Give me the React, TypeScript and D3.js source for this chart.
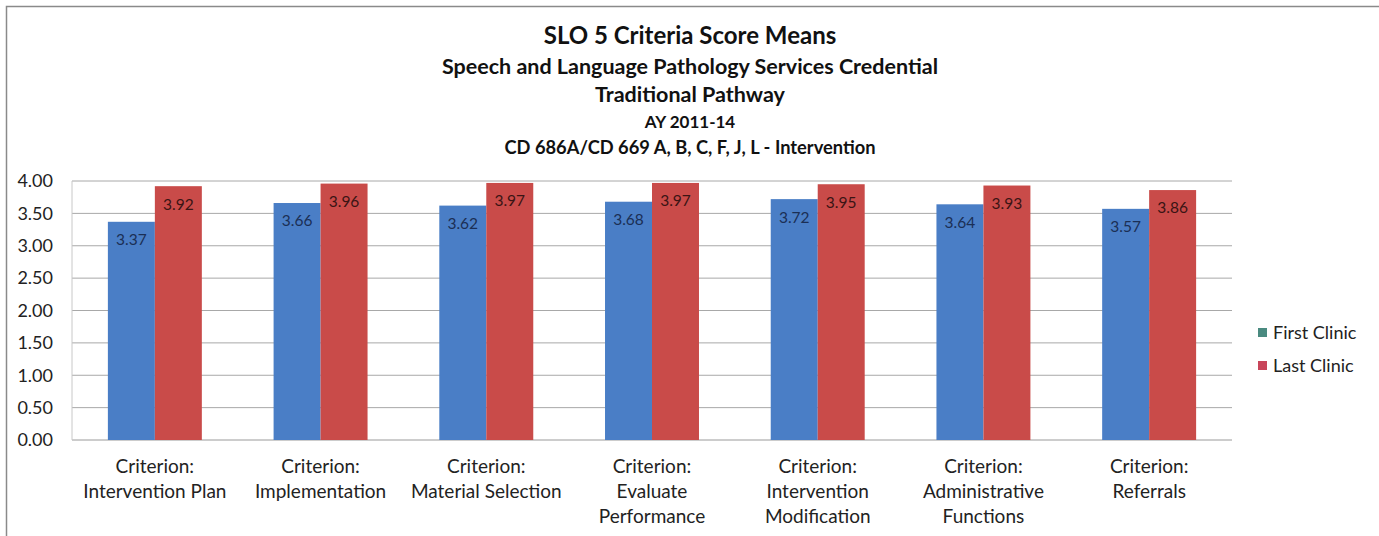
import React from "react";
import * as d3 from "d3";

const categories: string[][] = [
  ["Criterion:", "Intervention Plan"],
  ["Criterion:", "Implementation"],
  ["Criterion:", "Material Selection"],
  ["Criterion:", "Evaluate", "Performance"],
  ["Criterion:", "Intervention", "Modification"],
  ["Criterion:", "Administrative", "Functions"],
  ["Criterion:", "Referrals"],
];
const seriesNames = ["First Clinic", "Last Clinic"];
const firstClinic = [3.37, 3.66, 3.62, 3.68, 3.72, 3.64, 3.57];
const lastClinic = [3.92, 3.96, 3.97, 3.97, 3.95, 3.93, 3.86];
const yTicks = [0, 0.5, 1, 1.5, 2, 2.5, 3, 3.5, 4];
const titleLines = [
  "SLO 5 Criteria Score Means",
  "Speech and Language Pathology Services Credential",
  "Traditional  Pathway",
  "AY 2011-14",
  "CD 686A/CD 669 A, B, C, F, J, L - Intervention",
];

const W = 1379;
const H = 536;
const FONT = "Lato, 'Open Sans', sans-serif";
const BAR_COLORS = ["#4a7ec6", "#c94b49"];
const LEGEND_COLORS = ["#4a8a80", "#c8455a"];
const LABEL_COLORS = ["#1b2f55", "#3a1414"];

export default function App() {
  const plot = { left: 72, right: 1232, top: 181, bottom: 440 };
  const keys = categories.map((c) => c.join(" "));
  const x0 = d3
    .scaleBand<string>()
    .domain(keys)
    .range([plot.left, plot.right])
    .paddingInner(0.433)
    .paddingOuter(0.2165);
  const x1 = d3.scaleBand<string>().domain(seriesNames).range([0, x0.bandwidth()]);
  const y = d3.scaleLinear().domain([0, 4]).range([plot.bottom, plot.top]);
  const series = [firstClinic, lastClinic];

  return (
    <svg
      width={W}
      height={H}
      style={{ position: "absolute", left: 0, top: 0, background: "#fff" }}
      fontFamily={FONT}
    >
      <rect x={6.5} y={6.5} width={W + 10} height={H + 10} fill="#fff" stroke="#8a8a8a" strokeWidth={1.5} />
      {/* titles */}
      <text x={690} y={44} textAnchor="middle" fontSize={24} fontWeight="bold" fill="#111">
        {titleLines[0]}
      </text>
      {titleLines.slice(1).map((t, i) => (
        <text
          key={t}
          x={690}
          y={[74, 102, 128, 154][i]}
          textAnchor="middle"
          fontSize={[21.5, 21.5, 17, 18.3][i]}
          fontWeight="bold"
          fill="#111"
        >
          {t}
        </text>
      ))}
      {/* gridlines */}
      {yTicks.map((t) => (
        <line
          key={t}
          x1={plot.left}
          x2={plot.right}
          y1={y(t)}
          y2={y(t)}
          stroke={t === 0 ? "#9a9a9a" : "#a8a8a8"}
          strokeWidth={1}
        />
      ))}
      <line x1={plot.left} x2={plot.left} y1={plot.top} y2={plot.bottom} stroke="#c8c8c8" />
      {/* y tick labels */}
      {yTicks.map((t) => (
        <text key={t} x={53} y={y(t)} dy="0.35em" textAnchor="end" fontSize={18} fill="#222">
          {d3.format(".2f")(t)}
        </text>
      ))}
      {/* bars */}
      {keys.map((k, ci) => (
        <g key={k} transform={`translate(${x0(k)},0)`}>
          {series.map((s, si) => {
            const bx = x1(seriesNames[si])!;
            const bw = x1.bandwidth();
            const v = s[ci];
            return (
              <g key={si}>
                <rect x={bx} y={y(v)} width={bw} height={y(0) - y(v)} fill={BAR_COLORS[si]} />
                <text
                  x={bx + bw / 2}
                  y={y(v) + 18}
                  dy="0.35em"
                  textAnchor="middle"
                  fontSize={15.5}
                  fill={LABEL_COLORS[si]}
                >
                  {d3.format(".2f")(v)}
                </text>
              </g>
            );
          })}
        </g>
      ))}
      {/* x labels */}
      {categories.map((lines, ci) => {
        const c = x0(keys[ci])! + x0.bandwidth() / 2;
        return (
          <text key={ci} textAnchor="middle" fontSize={19} fill="#222">
            {lines.map((l, li) => (
              <tspan key={li} x={c} y={473 + li * 25}>
                {l}
              </tspan>
            ))}
          </text>
        );
      })}
      {/* legend */}
      {seriesNames.map((n, i) => (
        <g key={n} transform={`translate(1258, ${333 + i * 33})`}>
          <rect x={0} y={-5} width={9} height={9} fill={LEGEND_COLORS[i]} />
          <text x={15} y={0} dy="0.35em" fontSize={18} fill="#222">
            {n}
          </text>
        </g>
      ))}
    </svg>
  );
}
